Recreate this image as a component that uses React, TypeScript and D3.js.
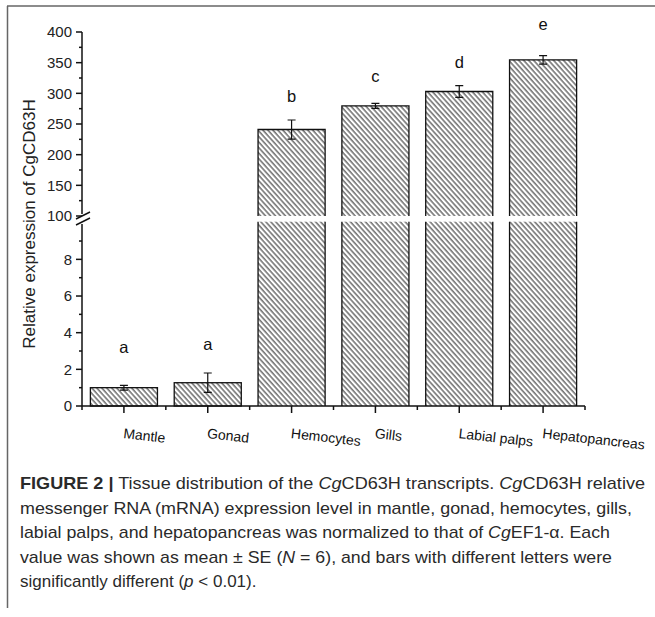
import React from 'react'
import * as d3 from 'd3'

const categories = ['Mantle', 'Gonad', 'Hemocytes', 'Gills', 'Labial palps', 'Hepatopancreas']
const means = [1.0, 1.27, 241, 279.5, 303, 354.5]
const errors = [0.13, 0.53, 15.5, 4, 9.5, 7]
const letters = ['a', 'a', 'b', 'c', 'd', 'e']
// height of each significance letter (in axis units)
const letterLevels = [3.2, 3.35, 296, 328, 351, 413]

const upperTicks = [100, 150, 200, 250, 300, 350, 400]
const upperMinor = [125, 175, 225, 275, 325, 375]
const lowerTicks = [0, 2, 4, 6, 8]
const lowerMinor = [1, 3, 5, 7, 9]

const captionLines = [
  [['b', 'FIGURE 2 |'], ['n', ' Tissue distribution of the '], ['i', 'Cg'], ['n', 'CD63H transcripts. '], ['i', 'Cg'], ['n', 'CD63H relative']],
  [['n', 'messenger RNA (mRNA) expression level in mantle, gonad, hemocytes, gills,']],
  [['n', 'labial palps, and hepatopancreas was normalized to that of '], ['i', 'Cg'], ['n', 'EF1-\u03b1. Each']],
  [['n', 'value was shown as mean \u00b1 SE ('], ['i', 'N'], ['n', ' = 6), and bars with different letters were']],
  [['n', 'significantly different ('], ['i', 'p'], ['n', ' < 0.01).']],
]
// fitted widths of the full caption lines; the last line keeps its natural width
const captionWidths = [625, 612, 590, 592, 0]

export default function App() {
  const width = 655
  const height = 617
  const axisX = 82
  const axisRight = 585
  const baseY = 406

  const x = d3.scaleBand<string>()
    .domain(categories)
    .range([axisX, axisRight])
    .paddingInner(0.2)
    .paddingOuter(0.1)

  const yLow = d3.scaleLinear().domain([0, 10]).range([baseY, 222.7])
  const yHigh = d3.scaleLinear().domain([100, 400]).range([216, 32])
  const y = (v: number) => (v <= 10 ? yLow(v) : yHigh(v))

  const step = x.step()
  const boundaries = d3.range(categories.length + 1).map(i => axisX + i * step)

  const font = 'Arial, "Liberation Sans", Helvetica, sans-serif'

  return (
    <div style={{ position: 'absolute', left: 0, top: 0 }}>
      <svg width={width} height={height} style={{ display: 'block', background: '#fff' }}>
        <defs>
          <pattern id="hatch" patternUnits="userSpaceOnUse" width={3.7} height={3.7}
            patternTransform="rotate(-42)">
            <line x1={1} y1={0} x2={1} y2={3.7} stroke="#222" strokeWidth={1} />
          </pattern>
        </defs>

        {/* figure frame */}
        <line x1={7} y1={6} x2={655} y2={6} stroke="#666" strokeWidth={1.5} />
        <line x1={7.5} y1={6} x2={7.5} y2={608} stroke="#666" strokeWidth={1.5} />

        {/* bars */}
        {categories.map((c, i) => {
          const x0 = x(c) as number
          const w = x.bandwidth()
          const v = means[i]
          if (v <= 10) {
            return (
              <rect key={c} x={x0} y={y(v)} width={w} height={baseY - y(v)}
                fill="url(#hatch)" stroke="#111" strokeWidth={1.3} />
            )
          }
          const top = yHigh(v)
          const gapTop = yHigh(100)
          const gapBot = yLow(10) - 1
          return (
            <g key={c}>
              <rect x={x0} y={top} width={w} height={gapTop - top} fill="url(#hatch)" />
              <rect x={x0} y={gapBot} width={w} height={baseY - gapBot} fill="url(#hatch)" />
              <path d={`M${x0},${gapTop}V${top}H${x0 + w}V${gapTop}`} fill="none" stroke="#111" strokeWidth={1.3} />
              <path d={`M${x0},${gapBot}V${baseY}M${x0 + w},${gapBot}V${baseY}`} fill="none" stroke="#111" strokeWidth={1.3} />
            </g>
          )
        })}

        {/* error bars */}
        {categories.map((c, i) => {
          const cx = (x(c) as number) + x.bandwidth() / 2
          const hi = y(means[i] + errors[i])
          const lo = y(means[i] - errors[i])
          return (
            <path key={c} d={`M${cx},${hi}V${lo}M${cx - 4},${hi}H${cx + 4}M${cx - 4},${lo}H${cx + 4}`}
              stroke="#111" strokeWidth={1.2} fill="none" />
          )
        })}

        {/* letters */}
        {categories.map((c, i) => (
          <text key={c} x={(x(c) as number) + x.bandwidth() / 2} y={y(letterLevels[i])}
            dy="0.35em" textAnchor="middle" fontFamily={font} fontSize={16.5} fill="#111">
            {letters[i]}
          </text>
        ))}

        {/* y axis */}
        <g stroke="#111" strokeWidth={1.5} fill="none">
          <line x1={axisX} y1={yHigh(400)} x2={axisX} y2={214} />
          <line x1={axisX} y1={224} x2={axisX} y2={baseY} />
          <line x1={axisX - 6} y1={219} x2={axisX + 8} y2={212} />
          <line x1={axisX - 6} y1={225} x2={axisX + 8} y2={218} />
          {upperTicks.map(t => (
            <line key={'u' + t} x1={axisX - 6} y1={yHigh(t)} x2={axisX} y2={yHigh(t)} />
          ))}
          {upperMinor.map(t => (
            <line key={'um' + t} x1={axisX - 3} y1={yHigh(t)} x2={axisX} y2={yHigh(t)} />
          ))}
          {lowerTicks.map(t => (
            <line key={'l' + t} x1={axisX - 6} y1={yLow(t)} x2={axisX} y2={yLow(t)} />
          ))}
          {lowerMinor.map(t => (
            <line key={'lm' + t} x1={axisX - 3} y1={yLow(t)} x2={axisX} y2={yLow(t)} />
          ))}
        </g>
        <g fontFamily={font} fontSize={15} fill="#222" textAnchor="end">
          {upperTicks.map(t => (
            <text key={'ut' + t} x={axisX - 10} y={yHigh(t)} dy="0.35em">{t}</text>
          ))}
          {lowerTicks.map(t => (
            <text key={'lt' + t} x={axisX - 10} y={yLow(t)} dy="0.35em">{t}</text>
          ))}
        </g>
        <text transform={`translate(35,224) rotate(-90)`} textAnchor="middle"
          fontFamily={font} fontSize={17} fill="#222">
          Relative expression of CgCD63H
        </text>

        {/* x axis */}
        <g stroke="#111" strokeWidth={1.5} fill="none">
          <line x1={axisX} y1={baseY} x2={axisRight} y2={baseY} />
          {boundaries.map((b, i) => (
            <line key={'b' + i} x1={b} y1={baseY} x2={b} y2={baseY + 4} />
          ))}
          {categories.map(c => {
            const cx = (x(c) as number) + x.bandwidth() / 2
            return <line key={'t' + c} x1={cx} y1={baseY} x2={cx} y2={baseY + 7} />
          })}
        </g>
        <g fontFamily={font} fontSize={14} fill="#111">
          {categories.map(c => {
            const cx = (x(c) as number) + x.bandwidth() / 2
            return (
              <text key={'xl' + c} transform={`translate(${cx - 1},438) rotate(6.5)`}>{c}</text>
            )
          })}
        </g>

        {/* caption */}
        <g fontFamily={font} fontSize={17} fill="#2a2a2a">
          {captionLines.map((line, li) => (
            <text key={li} x={20} y={489 + li * 24.5}
              textLength={captionWidths[li] || undefined}
              lengthAdjust={captionWidths[li] ? 'spacingAndGlyphs' : undefined}>
              {line.map(([k, s], j) => (
                <tspan key={j} fontWeight={k === 'b' ? 'bold' : undefined}
                  fontStyle={k === 'i' ? 'italic' : undefined}>{s}</tspan>
              ))}
            </text>
          ))}
        </g>
      </svg>
    </div>
  )
}
